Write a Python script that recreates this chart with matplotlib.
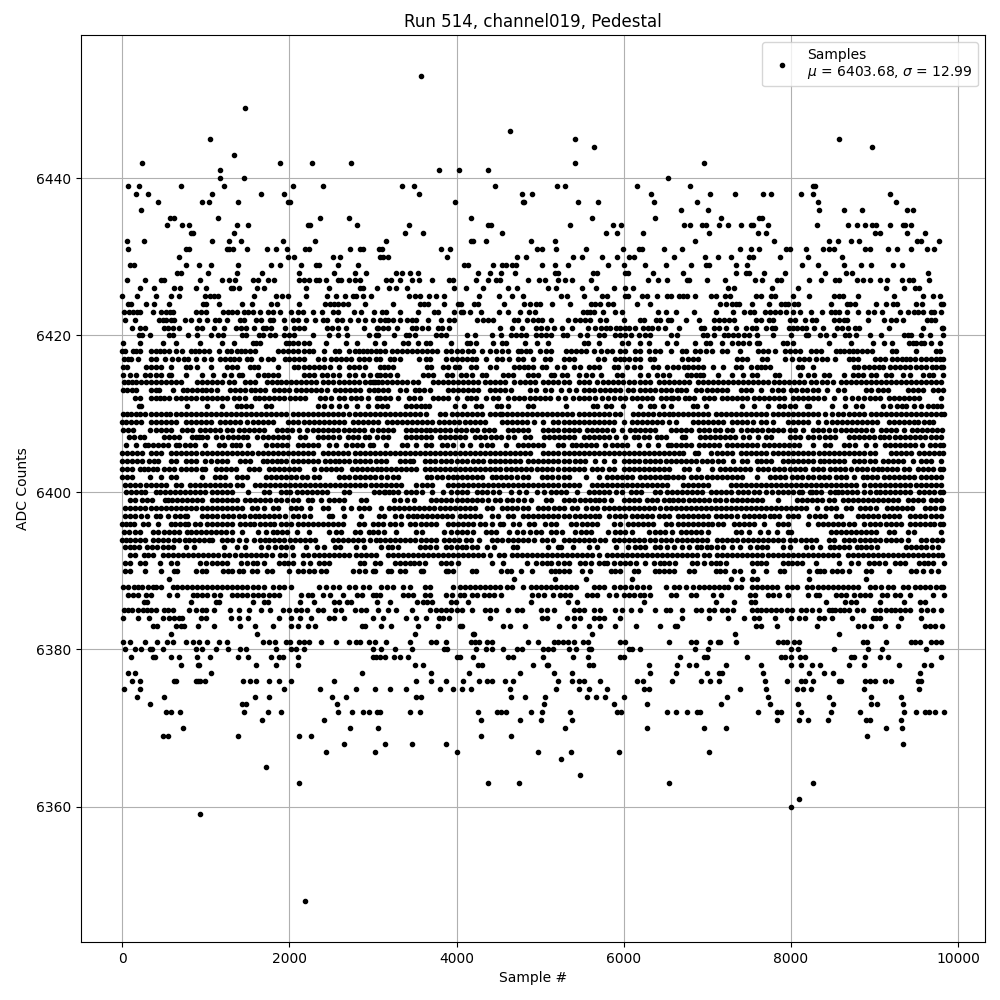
import matplotlib
matplotlib.use("Agg")
import matplotlib.pyplot as plt

# sample numbers, one list per ADC level
s6453 = [3575]
s6449 = [1470]
s6446 = [4640]
s6445 = [1055, 5420, 8575]
s6444 = [5640, 8975]
s6443 = [1340]
s6442 = [240, 1890, 2270, 2740, 5420, 6965]
s6441 = [1170, 3795, 4035, 4380]
s6440 = [1170, 1460, 6525]
s6439 = [72, 203, 706, 1220, 2045, 2404, 3354, 3497, 4466, 5208, 5303, 6153, 6798, 8270, 8285]
s6438 = [167, 311, 1076, 1663, 1938, 3557, 4789, 4909, 6332, 7037, 7336, 7671, 7767, 8126, 8269, 9190]
s6437 = [431, 957, 1041, 1387, 1990, 2010, 3988, 4797, 4810, 5459, 5698, 6368, 6882, 8329, 9262]
s6436 = [227, 6690, 7013, 8341, 8640, 8855, 9394, 9465]
s6435 = [574, 622, 1148, 2368, 2715, 4179, 5626, 6380, 7169, 7623, 7659]
s6434 = [538, 717, 801, 1375, 1507, 2225, 2249, 2811, 3437, 4374, 4418, 5363, 5866, 5973, 6726, 6798, 6942, 6990, 7145, 7253, 7408, 7528, 7552, 7731, 8317, 8688, 8796, 8891, 8975, 9023, 9190, 9346, 9370, 9441]
s6433 = [821, 849, 1340, 3378, 3605, 4550, 5794, 5925, 6236, 7025, 7611, 7707, 9000, 9070, 9394, 9609]
s6432 = [60, 263, 1076, 1280, 1423, 1926, 2308, 3162, 4179, 4203, 4347, 4897, 5184, 6858, 7803, 8461, 8568, 8724, 8819, 9513, 9561, 9776]
s6431 = [72, 765, 801, 1256, 1280, 1328, 1495, 1734, 1842, 1974, 2189, 2237, 2727, 2847, 2883, 3078, 3103, 3820, 3928, 4968, 5028, 5196, 5543, 5997, 6177, 6224, 6476, 6702, 7396, 7528, 7623, 7946, 7994, 8185, 8389, 8461, 8520, 8891, 8951, 9166, 9274, 9441, 9633, 9716]
s6430 = [682, 1986, 2057, 2524, 2607, 3086, 3115, 3186, 3892, 4729, 4837, 5399, 5507, 5746, 5925, 6069, 6129, 6607, 6977, 7133, 7288, 7504, 7552, 7874, 8209, 8616]
s6429 = [96, 144, 765, 921, 1064, 1387, 1782, 1890, 2141, 2320, 2356, 2584, 2823, 4095, 4143, 4442, 4550, 4598, 4658, 4706, 5028, 5184, 5339, 5818, 6009, 6260, 6500, 6810, 6990, 7025, 7348, 7480, 8138, 8329, 8640, 8843, 8963, 9218, 9334]
s6428 = [658, 706, 1029, 1375, 1675, 2117, 2536, 2787, 2918, 3282, 3354, 3449, 3545, 4263, 4406, 4538, 4705, 5184, 5220, 5638, 5686, 6021, 6057, 6356, 6714, 7348, 7468, 7504, 7683, 7934, 8413, 8664, 8736, 9644]
s6427 = [60, 275, 466, 502, 933, 1196, 1280, 1352, 1567, 1627, 1746, 1818, 2117, 2177, 2237, 2320, 2356, 2440, 2584, 2619, 2715, 2787, 2847, 3162, 3222, 3330, 3473, 3557, 3701, 3916, 3964, 4239, 4382, 4478, 4526, 4861, 4992, 5064, 5220, 5292, 5387, 5603, 6296, 6416, 6523, 6762, 6786, 7001, 7216, 7575, 7659, 7839, 7887, 8221, 8365, 8532, 8580, 8796, 8867, 8951, 9071, 9154, 9334, 9417, 9465, 9656]
s6426 = [215, 383, 622, 694, 885, 1005, 1304, 1328, 1399, 1615, 1698, 2201, 2476, 2847, 2883, 3050, 3198, 3282, 3402, 3976, 4119, 4311, 4610, 4729, 5100, 5196, 5507, 5674, 5878, 6021, 6117, 7253, 7324, 7779, 8090, 9142, 9358, 9489, 9537]
s6425 = [0, 179, 407, 586, 682, 993, 1052, 1100, 1148, 1579, 1842, 1914, 1986, 2201, 2452, 2560, 2667, 2763, 2799, 2883, 2978, 3437, 3509, 3569, 3677, 3749, 3856, 4275, 4514, 4658, 4801, 5244, 5316, 5530, 5746, 5806, 6021, 6057, 6224, 6284, 6404, 6523, 6571, 6666, 6714, 6762, 6858, 7049, 7109, 7216, 7276, 7587, 7647, 7767, 7815, 8030, 8221, 8520, 8580, 8628, 8807, 9238, 9585, 9704, 9788]
s6424 = [72, 108, 287, 383, 562, 969, 1005, 1160, 1435, 1555, 1782, 1854, 2117, 2428, 2488, 2536, 2584, 2643, 2703, 2907, 3246, 3569, 3617, 3665, 3856, 4023, 4059, 4215, 4263, 4574, 4813, 4885, 4945, 5004, 5148, 5363, 5603, 5662, 5722, 5818, 5866, 6153, 6320, 7157, 7229, 7300, 7348, 7384, 7540, 7743, 7887, 7934, 7970, 8042, 8090, 8484, 8676, 8712, 8772, 9023, 9142, 9226, 9274, 9501, 9573, 9790, 9825]
s6423 = [25, 85, 130, 175, 215, 370, 470, 520, 570, 610, 880, 940, 1000, 1210, 1270, 1320, 1380, 1460, 1510, 1560, 1650, 1740, 1810, 1890, 2020, 2105, 2165, 2285, 2395, 2525, 2585, 2775, 2860, 3015, 3110, 3160, 3330, 3535, 3725, 3775, 3965, 4050, 4075, 4160, 4290, 4505, 4615, 4760, 4865, 4940, 5510, 5555, 5600, 5650, 5755, 5900, 5985, 6415, 6500, 6630, 6835, 7100, 7305, 7435, 7505, 7555, 7690, 7750, 7810, 7870, 7940, 8025, 8110, 8240, 8370, 8480, 8530, 8580, 8670, 8800, 8925, 8995, 9090, 9305, 9400, 9475, 9525, 9585, 9680, 9715, 9800]
s6422 = [35, 155, 445, 490, 530, 585, 620, 755, 830, 925, 1020, 1115, 1155, 1250, 1405, 1455, 1600, 1660, 1765, 1810, 1940, 2045, 2110, 2195, 2305, 2400, 2455, 2575, 2625, 2730, 2825, 2900, 3005, 3080, 3140, 3185, 3235, 3320, 3405, 3465, 3510, 3665, 3820, 3915, 3965, 4240, 4315, 4375, 4435, 4690, 4735, 4845, 4915, 4975, 5025, 5130, 5335, 5420, 5480, 5540, 5600, 5720, 5790, 6000, 6200, 6245, 6390, 6440, 6535, 6560, 6740, 6905, 7075, 7135, 7195, 7255, 7325, 7580, 7640, 7735, 7785, 7985, 8045, 8165, 8250, 8300, 8515, 8575, 8635, 8670, 8925, 9115, 9200, 9260, 9345, 9630, 9680, 9725]
s6421 = [120, 215, 275, 500, 550, 610, 680, 895, 955, 1100, 1220, 1360, 1420, 1480, 1580, 1680, 1725, 1785, 1950, 2060, 2120, 2180, 2455, 2505, 2585, 2680, 2895, 3050, 3065, 3125, 3185, 3285, 3465, 3520, 3585, 3655, 3775, 3825, 3905, 4520, 4665, 4785, 4950, 5010, 5085, 5165, 5265, 5385, 5575, 5660, 5730, 5790, 5840, 5910, 5960, 6020, 6065, 6140, 6225, 6285, 6340, 6405, 6490, 6665, 6930, 6965, 7075, 7135, 7220, 7340, 7460, 7530, 7580, 7700, 7770, 7810, 7975, 8025, 8070, 8130, 8180, 8275, 8385, 8550, 8610, 8685, 8770, 8815, 9175, 9585, 9810, 9825]
s6420 = [205, 240, 335, 560, 610, 790, 900, 1060, 1150, 1210, 1440, 1480, 1640, 1680, 1770, 1830, 1940, 2000, 2060, 2280, 2480, 2585, 2690, 2955, 3040, 3060, 3250, 3390, 3435, 3500, 3760, 3810, 3870, 4120, 4225, 4420, 4530, 4650, 4710, 4770, 4830, 4950, 5010, 5065, 5125, 5270, 5320, 5480, 5555, 5700, 5760, 5900, 5960, 6015, 6090, 6180, 6250, 6310, 6560, 6640, 6950, 7000, 7080, 7205, 7250, 7310, 7370, 7440, 7500, 7600, 7790, 8005, 8180, 8210, 8350, 8425, 8510, 8650, 8700, 8780, 8950, 9080, 9350, 9400, 9440, 9560, 9660, 9820]
s6419 = [15, 215, 490, 650, 935, 1190, 1340, 1560, 1600, 1650, 1960, 2000, 2050, 2110, 2170, 2240, 2440, 2680, 2810, 3020, 3130, 3360, 3425, 3540, 3640, 3680, 3930, 4120, 4160, 4230, 4440, 4550, 4590, 4820, 4960, 5100, 5520, 5570, 5710, 5980, 6050, 6190, 6300, 6520, 6620, 6850, 6990, 7030, 7180, 7300, 7370, 7430, 7500, 7590, 7620, 7900, 7950, 8030, 8450, 8720, 8980, 9110, 9210, 9410, 9460, 9500, 9560, 9590, 9680, 9780]
s6418 = [0, 40, 130, 170, 220, 340, 400, 450, 500, 560, 640, 720, 820, 870, 920, 980, 1040, 1160, 1250, 1300, 1370, 1420, 1470, 1530, 1590, 1870, 1930, 1990, 2040, 2100, 2180, 2230, 2280, 2420, 2550, 2590, 2720, 2780, 2830, 2880, 2930, 2980, 3040, 3090, 3150, 3230, 3290, 3350, 3410, 3470, 3530, 3590, 3650, 3710, 3770, 3880, 3940, 4000, 4060, 4140, 4200, 4310, 4400, 4470, 4550, 4610, 4730, 4770, 4830, 4880, 5000, 5070, 5130, 5310, 5370, 5430, 5490, 5550, 5640, 5730, 5800, 5860, 5960, 6020, 6130, 6200, 6300, 6370, 6440, 6560, 6700, 6740, 6850, 6910, 6980, 7060, 7180, 7230, 7390, 7610, 7670, 7730, 7810, 7930, 7990, 8050, 8110, 8240, 8300, 8360, 8540, 8590, 8640, 8690, 8740, 8790, 8850, 8910, 8970, 9210, 9260, 9500, 9730, 9780]
s6417 = [20, 70, 110, 190, 350, 400, 510, 600, 670, 740, 790, 880, 980, 1060, 1170, 1230, 1290, 1340, 1400, 1490, 1540, 1660, 1750, 1810, 1950, 2000, 2060, 2120, 2180, 2340, 2410, 2500, 2560, 2620, 2680, 2740, 2830, 2890, 2950, 3040, 3090, 3200, 3250, 3330, 3550, 3630, 3680, 3880, 3950, 4000, 4060, 4130, 4180, 4230, 4350, 4490, 4550, 4630, 4730, 4800, 4920, 5060, 5120, 5290, 5350, 5410, 5690, 5760, 5900, 5950, 6000, 6060, 6130, 6200, 6310, 6360, 6700, 6770, 6830, 6890, 7360, 7420, 7470, 7660, 7710, 7930, 8010, 8100, 8160, 8220, 8300, 8370, 8430, 8530, 8690, 8740, 8800, 9000, 9060, 9120, 9210, 9270, 9330, 9380, 9430, 9490, 9550, 9610, 9670, 9730, 9780, 9820]
s6416 = [10, 60, 290, 340, 400, 460, 590, 770, 810, 900, 1060, 1260, 1320, 1380, 1530, 1580, 1630, 1860, 2060, 2110, 2170, 2230, 2290, 2350, 2410, 2490, 2600, 2710, 2770, 2830, 2900, 3090, 3130, 3180, 3240, 3650, 3700, 3840, 3900, 3980, 4030, 4170, 4230, 4400, 4470, 4690, 4750, 4810, 4860, 4920, 5020, 5070, 5200, 5290, 5400, 5480, 5580, 5640, 5700, 5880, 5930, 6040, 6120, 6190, 6350, 6410, 6520, 6590, 6650, 6720, 6770, 6830, 6890, 6950, 7070, 7190, 7340, 7400, 7520, 7590, 7640, 7690, 7750, 8080, 8130, 8260, 8750, 8800, 8880, 8930, 8990, 9050, 9100, 9190, 9240, 9310, 9360, 9430, 9500, 9560, 9620, 9690, 9740, 9790, 9825]
s6415 = [10, 100, 170, 280, 330, 400, 460, 560, 590, 760, 960, 1090, 1220, 1300, 1400, 1440, 1630, 1700, 1750, 1800, 1860, 2170, 2230, 2290, 2390, 2450, 2520, 2600, 2720, 2790, 2880, 2960, 3050, 3090, 3150, 3210, 3290, 3600, 3660, 3720, 3890, 3950, 4050, 4110, 4190, 4300, 4350, 4560, 4620, 4680, 4860, 4920, 4980, 5130, 5170, 5260, 5320, 5470, 5550, 5620, 5730, 5920, 5980, 6200, 6290, 6400, 6470, 6545, 6760, 6810, 6860, 6910, 6950, 7130, 7290, 7430, 7540, 7600, 7810, 7860, 8110, 8200, 8280, 8390, 8450, 8640, 8740, 8800, 8860, 8960, 9020, 9140, 9200, 9340, 9430, 9580, 9650, 9700, 9820]
s6414 = [20, 70, 120, 170, 230, 290, 350, 410, 470, 530, 590, 640, 700, 900, 960, 1020, 1080, 1140, 1190, 1280, 1340, 1470, 1530, 1590, 1730, 1790, 1850, 1900, 1960, 2020, 2080, 2140, 2200, 2260, 2320, 2400, 2460, 2520, 2590, 2650, 2710, 2770, 2830, 2900, 2960, 3000, 3020, 3060, 3110, 3170, 3230, 3290, 3350, 3410, 3480, 3540, 3720, 3780, 3840, 3900, 3960, 4020, 4080, 4140, 4200, 4260, 4340, 4400, 4460, 4520, 4580, 4690, 4760, 4820, 4880, 4940, 5040, 5100, 5150, 5220, 5280, 5340, 5460, 5520, 5580, 5680, 5750, 5810, 5870, 5930, 5990, 6060, 6120, 6190, 6250, 6310, 6420, 6480, 6540, 6600, 6660, 6720, 6780, 6890, 6950, 7010, 7070, 7130, 7190, 7250, 7310, 7370, 7430, 7490, 7550, 7610, 7670, 7730, 7800, 7860, 7920, 7980, 8040, 8100, 8160, 8240, 8300, 8370, 8430, 8500, 8600, 8660, 8720, 8780, 8840, 8900, 8960, 9020, 9080, 9140, 9200, 9260, 9320, 9380, 9440, 9500, 9560, 9620, 9680, 9740, 9800]
s6413 = [10, 60, 120, 170, 350, 400, 440, 610, 730, 780, 840, 900, 950, 1000, 1060, 1130, 1290, 1350, 1410, 1470, 1540, 1590, 1650, 1710, 1820, 1880, 1940, 2000, 2080, 2140, 2200, 2260, 2320, 2380, 2450, 2550, 2610, 2670, 2730, 2790, 2850, 2950, 3010, 3060, 3120, 3180, 3330, 3390, 3500, 3550, 3610, 3680, 3900, 3960, 4020, 4080, 4140, 4200, 4260, 4400, 4460, 4520, 4580, 4650, 4880, 4950, 5060, 5130, 5250, 5340, 5430, 5520, 5590, 5640, 5720, 5780, 5840, 5900, 5960, 6050, 6110, 6200, 6260, 6320, 6380, 6450, 6510, 6570, 6640, 6690, 6750, 6870, 6930, 7000, 7060, 7120, 7180, 7240, 7400, 7460, 7520, 7640, 7770, 7840, 7900, 8000, 8060, 8130, 8190, 8260, 8320, 8430, 8560, 8640, 8900, 8960, 9040, 9100, 9160, 9400, 9460, 9520, 9580, 9700, 9760, 9820]
s6412 = [150, 210, 340, 400, 450, 500, 560, 640, 700, 760, 820, 890, 950, 1010, 1070, 1130, 1190, 1260, 1340, 1400, 1470, 1590, 1640, 1700, 1760, 1820, 1880, 1940, 2010, 2070, 2130, 2190, 2370, 2430, 2500, 2600, 2650, 2740, 2800, 2860, 2940, 3050, 3080, 3140, 3200, 3300, 3430, 3490, 3560, 3720, 3780, 3840, 3900, 4000, 4120, 4170, 4230, 4350, 4440, 4500, 4620, 4690, 4750, 4810, 4880, 4940, 5000, 5060, 5120, 5210, 5300, 5390, 5470, 5530, 5590, 5660, 5740, 5810, 5880, 5950, 6010, 6100, 6160, 6220, 6280, 6340, 6450, 6510, 6570, 6590, 6650, 6730, 6780, 6840, 6960, 7020, 7080, 7180, 7240, 7300, 7360, 7420, 7480, 7560, 7620, 7680, 7740, 7800, 7860, 7920, 8020, 8080, 8140, 8200, 8260, 8320, 8390, 8520, 8650, 8730, 8800, 8880, 8940, 9010, 9070, 9170, 9230, 9290, 9350, 9410, 9470, 9530, 9800]
s6411 = [200, 230, 780, 1020, 1190, 1370, 1420, 1480, 1540, 1720, 1780, 2340, 2420, 2500, 2600, 2680, 2810, 2940, 3050, 3110, 3170, 3400, 3460, 3520, 3570, 3620, 3670, 3980, 4090, 4230, 4290, 4480, 4530, 4610, 4860, 4910, 5310, 5630, 5680, 5790, 5850, 5990, 6190, 6310, 6360, 6470, 6570, 6830, 6880, 6980, 7420, 7560, 7720, 7860, 7920, 7990, 8050, 8190, 8220, 8490, 8650, 8780, 8850, 9100, 9190, 9270, 9330, 9380, 9470, 9560, 9640, 9700, 9750, 9800]
s6410 = [10, 60, 110, 170, 220, 280, 340, 400, 460, 520, 570, 640, 700, 760, 820, 880, 940, 1000, 1060, 1120, 1180, 1240, 1300, 1360, 1420, 1480, 1540, 1600, 1660, 1720, 1780, 1840, 1900, 1960, 2040, 2100, 2160, 2220, 2280, 2340, 2400, 2460, 2520, 2580, 2640, 2720, 2780, 2840, 2900, 2960, 3020, 3080, 3140, 3200, 3260, 3320, 3380, 3440, 3500, 3560, 3640, 3800, 3860, 3950, 4010, 4070, 4130, 4190, 4250, 4310, 4400, 4460, 4520, 4540, 4600, 4660, 4720, 4780, 4840, 4900, 4960, 5020, 5080, 5140, 5200, 5260, 5320, 5380, 5470, 5530, 5590, 5650, 5710, 5770, 5830, 5890, 5960, 6110, 6170, 6230, 6290, 6350, 6420, 6480, 6540, 6590, 6650, 6710, 6770, 6830, 6890, 6950, 7010, 7100, 7160, 7220, 7280, 7340, 7400, 7460, 7520, 7580, 7640, 7700, 7780, 7840, 7900, 7960, 8020, 8080, 8140, 8200, 8260, 8320, 8410, 8490, 8560, 8620, 8700, 8760, 8820, 8880, 8960, 9020, 9080, 9140, 9200, 9260, 9320, 9380, 9440, 9500, 9560, 9620, 9680, 9740, 9790, 9830]
s6409 = [0, 50, 110, 170, 230, 340, 400, 460, 520, 580, 640, 760, 820, 880, 940, 1000, 1060, 1170, 1230, 1290, 1350, 1410, 1500, 1560, 1620, 1680, 1740, 1800, 1980, 2040, 2100, 2180, 2240, 2300, 2360, 2420, 2480, 2540, 2600, 2660, 2760, 2820, 2880, 2940, 3000, 3060, 3170, 3230, 3290, 3350, 3410, 3470, 3530, 3590, 3650, 3710, 3790, 3850, 3910, 3970, 4030, 4100, 4160, 4220, 4280, 4340, 4540, 4600, 4660, 4720, 4780, 4840, 4930, 5040, 5160, 5220, 5280, 5340, 5400, 5460, 5520, 5580, 5640, 5700, 5760, 5820, 5880, 6000, 6100, 6160, 6220, 6280, 6340, 6400, 6460, 6540, 6630, 6830, 6890, 6950, 7010, 7070, 7130, 7190, 7290, 7350, 7410, 7470, 7550, 7640, 7700, 7780, 7970, 8030, 8090, 8150, 8210, 8320, 8420, 8490, 8550, 8610, 8670, 8730, 8790, 8850, 8910, 8970, 9030, 9170, 9230, 9290, 9350, 9410, 9470, 9520, 9590, 9650, 9700]
s6408 = [10, 70, 130, 330, 400, 470, 530, 590, 720, 780, 840, 930, 990, 1050, 1110, 1170, 1250, 1310, 1400, 1460, 1520, 1580, 1640, 1700, 1850, 1910, 1970, 2030, 2120, 2210, 2280, 2340, 2400, 2460, 2520, 2580, 2650, 2710, 2770, 2830, 2890, 2990, 3060, 3120, 3180, 3240, 3390, 3450, 3510, 3570, 3630, 3680, 3740, 3800, 3860, 3920, 3990, 4050, 4110, 4190, 4250, 4330, 4390, 4450, 4610, 4670, 4730, 4800, 4860, 5040, 5100, 5160, 5220, 5280, 5340, 5400, 5460, 5560, 5620, 5680, 5740, 5800, 5870, 5980, 6070, 6130, 6190, 6250, 6310, 6370, 6560, 6620, 6680, 6740, 6800, 6900, 6960, 7020, 7090, 7150, 7230, 7290, 7400, 7480, 7540, 7600, 7660, 7720, 7780, 7840, 7900, 7990, 8050, 8140, 8260, 8320, 8380, 8450, 8530, 8600, 8660, 8720, 8780, 8840, 8900, 8970, 9080, 9140, 9200, 9260, 9350, 9450, 9510, 9570, 9630, 9690, 9750, 9810]
s6407 = [80, 140, 210, 260, 500, 560, 620, 680, 840, 880, 920, 960, 1020, 1120, 1190, 1270, 1330, 1390, 1450, 1500, 1610, 1680, 1740, 1800, 1860, 1930, 1990, 2130, 2190, 2340, 2400, 2460, 2520, 2600, 2700, 2760, 2820, 2900, 2950, 3050, 3120, 3180, 3390, 3450, 3510, 3570, 3630, 3700, 3800, 3860, 3920, 3980, 4040, 4100, 4220, 4280, 4340, 4410, 4470, 4530, 4620, 4690, 4820, 4880, 5050, 5110, 5170, 5230, 5290, 5350, 5410, 5530, 5590, 5650, 5710, 5770, 5830, 5910, 6010, 6120, 6170, 6240, 6300, 6400, 6450, 6510, 6700, 6730, 6910, 6970, 7030, 7090, 7150, 7210, 7270, 7330, 7430, 7500, 7610, 7700, 7760, 7990, 8050, 8110, 8200, 8260, 8330, 8410, 8470, 8530, 8690, 8750, 8810, 8870, 8930, 8990, 9060, 9110, 9170, 9240, 9300, 9360, 9430, 9480, 9540, 9600, 9680, 9740, 9800]
s6406 = [50, 170, 270, 310, 370, 430, 490, 550, 640, 680, 750, 810, 870, 990, 1160, 1220, 1310, 1360, 1410, 1510, 1720, 1790, 1850, 1910, 1970, 2100, 2160, 2220, 2280, 2340, 2480, 2560, 2680, 2750, 2810, 2870, 2960, 3000, 3160, 3350, 3410, 3510, 3640, 3700, 3830, 3890, 3960, 4060, 4160, 4290, 4370, 4430, 4590, 4740, 4800, 4860, 4920, 4980, 5040, 5210, 5270, 5380, 5430, 5490, 5550, 5610, 5670, 5780, 5860, 5920, 5980, 6040, 6180, 6290, 6410, 6530, 6570, 6620, 6680, 6740, 6800, 6900, 6960, 7020, 7080, 7140, 7230, 7290, 7350, 7410, 7470, 7530, 7590, 7680, 7740, 7800, 7860, 7920, 7980, 8040, 8100, 8270, 8410, 8470, 8640, 8700, 8770, 8900, 9000, 9130, 9190, 9250, 9310, 9370, 9430, 9490, 9570, 9660, 9720, 9780, 9825]
s6405 = [0, 60, 120, 180, 240, 340, 400, 460, 590, 650, 710, 770, 830, 890, 950, 1010, 1070, 1130, 1190, 1250, 1310, 1370, 1430, 1490, 1550, 1620, 1680, 1740, 1800, 1860, 1920, 1980, 2040, 2100, 2160, 2220, 2280, 2400, 2460, 2520, 2580, 2640, 2700, 2780, 2840, 2900, 2960, 3020, 3080, 3140, 3200, 3260, 3320, 3380, 3440, 3500, 3560, 3620, 3680, 3740, 3800, 3860, 3920, 3980, 4040, 4100, 4160, 4220, 4280, 4340, 4400, 4460, 4520, 4580, 4640, 4700, 4760, 4820, 4880, 5040, 5100, 5160, 5220, 5280, 5340, 5400, 5460, 5520, 5580, 5640, 5700, 5760, 5820, 5880, 5940, 6000, 6060, 6120, 6180, 6240, 6300, 6360, 6420, 6480, 6540, 6600, 6660, 6710, 6850, 6890, 7050, 7110, 7170, 7230, 7290, 7400, 7460, 7520, 7580, 7640, 7700, 7780, 7840, 7900, 7960, 8020, 8080, 8140, 8200, 8260, 8340, 8400, 8460, 8520, 8580, 8640, 8700, 8760, 8820, 8880, 8940, 9000, 9200, 9260, 9320, 9380, 9440, 9530, 9590, 9650, 9710, 9770, 9820]
s6404 = [0, 60, 120, 180, 240, 320, 380, 430, 580, 640, 770, 830, 890, 990, 1060, 1130, 1190, 1250, 1410, 1470, 1530, 1680, 1730, 1790, 1850, 1900, 1960, 2040, 2100, 2160, 2220, 2280, 2340, 2430, 2490, 2550, 2600, 2660, 2720, 2780, 2840, 2900, 2960, 3040, 3100, 3160, 3320, 3380, 3440, 3480, 3620, 3680, 3740, 3820, 3880, 3940, 4000, 4060, 4120, 4200, 4260, 4320, 4400, 4460, 4520, 4580, 4640, 4700, 4760, 4850, 4910, 4970, 5030, 5090, 5150, 5220, 5280, 5340, 5420, 5480, 5540, 5660, 5770, 5880, 6000, 6060, 6120, 6180, 6260, 6320, 6380, 6440, 6500, 6560, 6620, 6680, 6740, 6800, 6860, 6940, 7000, 7060, 7130, 7190, 7310, 7410, 7470, 7590, 7640, 7700, 7760, 7900, 7960, 8020, 8080, 8140, 8200, 8260, 8350, 8400, 8460, 8520, 8580, 8640, 8760, 8820, 8880, 8940, 9000, 9100, 9160, 9220, 9280, 9340, 9460, 9560, 9620, 9680, 9800]
s6403 = [0, 60, 120, 210, 260, 310, 370, 420, 500, 560, 620, 700, 760, 820, 880, 950, 990, 1120, 1180, 1240, 1300, 1360, 1520, 1580, 1640, 1760, 1820, 1880, 1940, 2000, 2060, 2120, 2290, 2380, 2440, 2500, 2560, 2620, 2750, 2810, 2870, 2930, 2990, 3050, 3100, 3160, 3220, 3280, 3340, 3400, 3460, 3520, 3620, 3680, 3740, 3800, 3860, 3920, 3980, 4040, 4100, 4160, 4220, 4280, 4340, 4400, 4460, 4520, 4590, 4650, 4710, 4770, 4830, 4890, 4960, 5020, 5080, 5140, 5220, 5280, 5340, 5400, 5460, 5520, 5620, 5680, 5740, 5820, 5880, 6000, 6060, 6120, 6180, 6240, 6300, 6360, 6420, 6480, 6540, 6720, 6780, 6890, 7060, 7150, 7210, 7270, 7330, 7390, 7450, 7510, 7610, 7670, 7730, 7800, 7860, 7920, 7990, 8050, 8110, 8170, 8270, 8320, 8380, 8470, 8530, 8590, 8650, 8720, 8790, 8850, 8910, 8980, 9040, 9090, 9150, 9210, 9270, 9350, 9410, 9520, 9580, 9640, 9700, 9780, 9820]
s6402 = [0, 60, 120, 330, 460, 580, 640, 960, 1110, 1170, 1230, 1380, 1440, 1500, 1720, 1780, 1840, 1900, 1960, 2020, 2080, 2150, 2210, 2300, 2350, 2600, 2660, 2720, 2780, 2840, 2900, 2960, 3030, 3100, 3170, 3240, 3300, 3650, 3700, 3770, 3830, 3900, 3960, 4000, 4060, 4120, 4180, 4240, 4300, 4420, 4470, 4530, 4590, 4650, 4720, 4800, 4860, 5020, 5080, 5140, 5220, 5280, 5340, 5550, 5710, 5800, 5860, 5920, 5980, 6040, 6100, 6200, 6260, 6320, 6380, 6440, 6490, 6530, 6590, 6650, 6710, 6800, 6860, 6920, 7000, 7060, 7120, 7180, 7240, 7300, 7360, 7420, 7590, 7750, 7810, 7870, 7930, 8010, 8070, 8130, 8200, 8260, 8340, 8400, 8460, 8540, 8600, 8660, 8750, 8860, 8910, 8970, 9030, 9110, 9170, 9230, 9290, 9350, 9410, 9470, 9560, 9620, 9680, 9740, 9800]
s6401 = [40, 100, 160, 220, 290, 350, 410, 470, 530, 640, 700, 810, 870, 930, 990, 1050, 1110, 1170, 1230, 1290, 1380, 1440, 1590, 1650, 1710, 1770, 1830, 1890, 1950, 2010, 2070, 2130, 2190, 2250, 2310, 2370, 2430, 2490, 2550, 2610, 2670, 2730, 2790, 2850, 2910, 2980, 3040, 3100, 3160, 3220, 3280, 3340, 3520, 3590, 3650, 3710, 3900, 3960, 4020, 4080, 4140, 4200, 4260, 4320, 4380, 4440, 4500, 4560, 4620, 4680, 4740, 4800, 4860, 4920, 4980, 5040, 5100, 5160, 5220, 5280, 5340, 5400, 5460, 5620, 5680, 5740, 5800, 5860, 5920, 5980, 6040, 6100, 6160, 6220, 6280, 6340, 6400, 6460, 6520, 6710, 6770, 6830, 6890, 6950, 7010, 7280, 7340, 7400, 7460, 7520, 7580, 7640, 7700, 7760, 7820, 7880, 7940, 8000, 8060, 8120, 8180, 8240, 8300, 8360, 8420, 8480, 8540, 8600, 8660, 8720, 8780, 8880, 8940, 9000, 9060, 9120, 9180, 9240, 9300, 9360, 9420, 9500, 9560, 9620, 9680, 9740, 9800]
s6400 = [50, 110, 170, 230, 280, 400, 450, 510, 570, 630, 690, 750, 810, 870, 930, 990, 1080, 1140, 1200, 1260, 1320, 1510, 1700, 1760, 1900, 1960, 2010, 2090, 2150, 2210, 2270, 2330, 2390, 2450, 2650, 2720, 3010, 3070, 3130, 3150, 3190, 3240, 3300, 3390, 3450, 3520, 3590, 3710, 3840, 3940, 4000, 4060, 4120, 4240, 4300, 4370, 4440, 4510, 4650, 4750, 4830, 4960, 5050, 5130, 5190, 5250, 5310, 5440, 5580, 5640, 5700, 5760, 5830, 5910, 5980, 6090, 6150, 6210, 6380, 6440, 6520, 6580, 6640, 6700, 6760, 6820, 6880, 6940, 7040, 7100, 7160, 7220, 7280, 7370, 7430, 7490, 7560, 7620, 7700, 7770, 7850, 7910, 7970, 8030, 8100, 8130, 8230, 8250, 8300, 8360, 8470, 8530, 8560, 8610, 8670, 8730, 8790, 8880, 8950, 9020, 9060, 9120, 9180, 9240, 9300, 9360, 9420, 9530, 9590, 9650, 9710, 9780, 9820]
s6399 = [90, 150, 240, 300, 360, 510, 550, 600, 660, 720, 780, 840, 900, 960, 1080, 1140, 1200, 1260, 1320, 1380, 1470, 1530, 1590, 1650, 1710, 1770, 1840, 1900, 1970, 2040, 2100, 2220, 2270, 2380, 2470, 2530, 2590, 2660, 2860, 2920, 3250, 3330, 3410, 3490, 3700, 3760, 3820, 3880, 3940, 4000, 4060, 4120, 4180, 4250, 4300, 4380, 4460, 4520, 4600, 4660, 4730, 4810, 4890, 5070, 5130, 5280, 5340, 5400, 5480, 5540, 5600, 5660, 5710, 5770, 5850, 6000, 6060, 6120, 6180, 6280, 6340, 6400, 6480, 6540, 6590, 6650, 6710, 6780, 6840, 6900, 6960, 7020, 7090, 7150, 7220, 7290, 7350, 7410, 7470, 7530, 7590, 7650, 7840, 8070, 8130, 8190, 8250, 8310, 8370, 8450, 8510, 8620, 8680, 8740, 8800, 8860, 8920, 8980, 9040, 9100, 9160, 9220, 9280, 9400, 9460, 9520, 9580, 9680, 9740, 9800]
s6398 = [30, 90, 150, 210, 280, 340, 400, 470, 530, 590, 650, 710, 770, 830, 890, 950, 1010, 1070, 1130, 1190, 1250, 1310, 1370, 1430, 1550, 1610, 1700, 1810, 1870, 2020, 2080, 2140, 2250, 2400, 2460, 2640, 2740, 2830, 2890, 2950, 3100, 3190, 3250, 3310, 3370, 3430, 3490, 3550, 3610, 3670, 3730, 3800, 3860, 3920, 3980, 4040, 4100, 4160, 4220, 4360, 4420, 4540, 4600, 4660, 4720, 4790, 4850, 4980, 5040, 5100, 5170, 5230, 5290, 5380, 5440, 5550, 5620, 5680, 5760, 5820, 5880, 5940, 6000, 6060, 6120, 6180, 6240, 6300, 6360, 6440, 6500, 6560, 6620, 6680, 6740, 6800, 6860, 6920, 6980, 7040, 7100, 7160, 7220, 7280, 7340, 7400, 7460, 7520, 7580, 7640, 7700, 7760, 7820, 7880, 7940, 8000, 8060, 8120, 8180, 8310, 8420, 8480, 8540, 8660, 8720, 8830, 8890, 8950, 9020, 9150, 9210, 9270, 9330, 9390, 9450, 9600, 9660, 9720, 9790, 9825]
s6397 = [30, 100, 150, 230, 300, 400, 450, 550, 630, 690, 750, 780, 960, 1020, 1080, 1140, 1210, 1270, 1330, 1400, 1460, 1530, 1590, 1640, 1700, 1760, 1820, 1880, 1950, 2040, 2100, 2180, 2250, 2470, 2510, 2660, 2860, 3070, 3130, 3260, 3340, 3420, 3480, 3530, 3590, 3650, 3710, 3770, 3830, 3890, 3950, 4040, 4100, 4160, 4220, 4280, 4430, 4500, 4620, 4680, 4800, 4860, 4920, 4980, 5040, 5100, 5160, 5220, 5280, 5340, 5420, 5480, 5540, 5600, 5660, 5710, 5830, 5900, 5960, 6020, 6100, 6160, 6220, 6280, 6340, 6420, 6480, 6540, 6650, 6710, 6770, 6830, 6890, 6950, 7010, 7100, 7160, 7220, 7280, 7350, 7440, 7500, 7560, 7620, 7680, 7750, 7800, 7860, 7960, 8020, 8080, 8220, 8290, 8350, 8410, 8540, 8600, 8800, 8860, 8920, 8980, 9040, 9110, 9170, 9230, 9290, 9420, 9490, 9540, 9600, 9680, 9740, 9800]
s6396 = [0, 50, 100, 140, 250, 310, 430, 590, 630, 690, 750, 790, 870, 930, 1010, 1070, 1130, 1190, 1260, 1320, 1410, 1470, 1530, 1580, 1650, 1710, 1770, 1820, 1900, 1960, 2020, 2100, 2160, 2220, 2280, 2340, 2400, 2460, 2520, 2580, 2640, 2830, 2890, 3000, 3060, 3120, 3200, 3260, 3340, 3440, 3500, 3580, 3640, 3700, 3760, 3900, 3960, 4020, 4080, 4140, 4200, 4280, 4340, 4420, 4520, 4560, 4670, 4750, 4870, 4930, 5060, 5130, 5190, 5370, 5430, 5500, 5560, 5620, 5680, 5880, 5950, 6050, 6110, 6170, 6230, 6290, 6350, 6500, 6560, 6650, 6710, 6770, 6830, 6890, 6950, 7010, 7060, 7130, 7190, 7320, 7380, 7440, 7500, 7560, 7680, 7850, 7900, 7960, 8200, 8320, 8380, 8440, 8500, 8560, 8620, 8700, 8760, 8880, 8940, 9000, 9060, 9140, 9200, 9260, 9320, 9420, 9480, 9540, 9600, 9660, 9710, 9780, 9820]
s6395 = [20, 80, 160, 220, 370, 430, 500, 560, 620, 680, 780, 830, 880, 940, 1000, 1060, 1120, 1180, 1240, 1320, 1430, 1620, 1720, 1810, 1850, 1910, 1970, 2090, 2240, 2470, 2560, 2620, 2790, 2850, 2950, 3000, 3060, 3130, 3280, 3520, 3590, 3850, 3940, 4000, 4060, 4130, 4200, 4350, 4410, 4470, 4630, 4720, 4790, 4880, 4950, 5010, 5130, 5190, 5260, 5420, 5490, 5550, 5610, 5810, 5900, 5960, 6020, 6100, 6300, 6370, 6430, 6490, 6580, 6690, 6750, 6810, 6870, 6930, 7010, 7340, 7400, 7500, 7630, 7720, 7830, 7960, 8000, 8480, 8540, 8600, 8660, 8720, 8780, 8840, 8900, 8960, 9020, 9170, 9230, 9400, 9470, 9800]
s6394 = [0, 50, 100, 160, 210, 270, 370, 430, 490, 550, 620, 680, 750, 800, 860, 920, 980, 1040, 1080, 1200, 1250, 1310, 1400, 1480, 1580, 1650, 1710, 1760, 1820, 1880, 1940, 2010, 2070, 2130, 2190, 2250, 2310, 2520, 2580, 2640, 2700, 2760, 2820, 2880, 2960, 3040, 3090, 3140, 3200, 3260, 3320, 3380, 3440, 3500, 3580, 3640, 3700, 3760, 3850, 3910, 3970, 4030, 4110, 4170, 4270, 4430, 4490, 4550, 4620, 4680, 4740, 4800, 4860, 4930, 5020, 5080, 5160, 5280, 5340, 5410, 5470, 5530, 5590, 5650, 5720, 5780, 5880, 5940, 6000, 6060, 6120, 6180, 6240, 6320, 6380, 6450, 6510, 6570, 6640, 6700, 6760, 6820, 6880, 6940, 7000, 7120, 7180, 7240, 7300, 7360, 7430, 7490, 7550, 7610, 7670, 7730, 7790, 7850, 7910, 7990, 8050, 8120, 8180, 8240, 8300, 8460, 8520, 8630, 8700, 8760, 8830, 8890, 8950, 9010, 9070, 9140, 9200, 9260, 9320, 9400, 9560, 9620, 9690, 9750, 9810]
s6393 = [30, 90, 140, 200, 300, 360, 420, 490, 550, 610, 760, 860, 1220, 1370, 1470, 1660, 1740, 1830, 1900, 1960, 2030, 2200, 2330, 2420, 2550, 2610, 2800, 2890, 3100, 3180, 3230, 3300, 3560, 3620, 3680, 3760, 3880, 3940, 4000, 4060, 4110, 4190, 4250, 4370, 4450, 4670, 4720, 5090, 5210, 5250, 5390, 5590, 5680, 5910, 6050, 6130, 6190, 6250, 6370, 6440, 6520, 6600, 6700, 6780, 6880, 6930, 7000, 7050, 7110, 7190, 7300, 7390, 7510, 7590, 7650, 7710, 7900, 7990, 8180, 8250, 8350, 8470, 8520, 8570, 8630, 8700, 8790, 8840, 8900, 8960, 9030, 9380, 9440, 9500, 9560, 9610, 9690, 9760]
s6392 = [90, 150, 260, 310, 370, 490, 550, 610, 670, 730, 790, 850, 910, 970, 1030, 1090, 1150, 1220, 1280, 1350, 1420, 1480, 1540, 1600, 1660, 1720, 1790, 1890, 1950, 2040, 2160, 2220, 2290, 2350, 2410, 2470, 2530, 2590, 2650, 2720, 2800, 2860, 2920, 2980, 3040, 3180, 3240, 3300, 3360, 3420, 3480, 3540, 3600, 3660, 3720, 3780, 3840, 3900, 3960, 4020, 4080, 4140, 4200, 4260, 4320, 4400, 4510, 4570, 4660, 4720, 4780, 4840, 4900, 4960, 5020, 5080, 5140, 5200, 5260, 5320, 5380, 5440, 5500, 5560, 5620, 5700, 5800, 5860, 5920, 5980, 6040, 6100, 6160, 6220, 6280, 6340, 6400, 6460, 6520, 6580, 6640, 6700, 6760, 6820, 6880, 6960, 7020, 7120, 7180, 7240, 7300, 7360, 7420, 7480, 7540, 7600, 7660, 7720, 7780, 7840, 7900, 7960, 8020, 8080, 8140, 8200, 8260, 8320, 8380, 8440, 8500, 8560, 8680, 8740, 8800, 8860, 8920, 8980, 9040, 9100, 9160, 9220, 9280, 9340, 9400, 9460, 9520, 9580, 9640, 9700, 9760, 9810]
s6391 = [30, 90, 220, 270, 450, 580, 660, 930, 1000, 1080, 1130, 1190, 1250, 1420, 1490, 1570, 1610, 1700, 1880, 1940, 1990, 2050, 2160, 2250, 2360, 2420, 2470, 2840, 2890, 3020, 3090, 3260, 3320, 3380, 3440, 3490, 3550, 3620, 3820, 3870, 3940, 4020, 4430, 4560, 4840, 4950, 5020, 5080, 5130, 5210, 5290, 5350, 5480, 5540, 5610, 5700, 5760, 5800, 5880, 5950, 6010, 6080, 6150, 6250, 6360, 6430, 6480, 6540, 6610, 6820, 6880, 6960, 7040, 7100, 7150, 7220, 7530, 7590, 7640, 7700, 7900, 7960, 8010, 8070, 8130, 8300, 8570, 8720, 8800, 8930, 8990, 9050, 9130, 9250, 9310, 9360, 9530, 9590, 9640, 9700, 9830]
s6390 = [40, 90, 280, 460, 620, 660, 890, 950, 1000, 1210, 1270, 1320, 1400, 1450, 1550, 1610, 1730, 1790, 2000, 2110, 2160, 2240, 2300, 2380, 2440, 2760, 2830, 2900, 3000, 3030, 3180, 3220, 3320, 3380, 3580, 3600, 3870, 3900, 3960, 4180, 4230, 4530, 4600, 4650, 4770, 4900, 5130, 5180, 5230, 5290, 5340, 5500, 5600, 5850, 5900, 5960, 6120, 6170, 6380, 6420, 6480, 6540, 6600, 6780, 6840, 7100, 7150, 7210, 7320, 7390, 7550, 7700, 7870, 7920, 8220, 8310, 8350, 8400, 8490, 8550, 8610, 8700, 8900, 8960, 9170, 9440, 9500, 9580, 9680, 9760]
s6389 = [565, 4690, 5180, 5550, 6100, 7280, 7420, 7540, 7590, 8220, 8900]
s6388 = [10, 70, 140, 190, 240, 310, 370, 410, 460, 610, 660, 720, 780, 840, 900, 960, 1020, 1080, 1140, 1200, 1260, 1320, 1380, 1440, 1500, 1560, 1620, 1700, 1810, 1880, 1940, 2020, 2360, 2440, 2520, 2600, 2720, 2790, 2880, 2950, 3100, 3170, 3240, 3360, 3440, 3620, 3680, 3960, 4040, 4100, 4160, 4220, 4280, 4340, 4400, 4460, 4520, 4600, 4660, 4800, 4890, 4950, 5010, 5070, 5130, 5190, 5250, 5310, 5370, 5430, 5640, 5700, 5760, 5880, 5950, 6020, 6090, 6160, 6230, 6300, 6510, 6600, 6660, 6750, 6830, 6900, 6960, 7020, 7080, 7140, 7200, 7250, 7340, 7400, 7530, 7590, 7650, 7710, 7770, 7830, 7950, 8010, 8070, 8190, 8250, 8320, 8380, 8440, 8500, 8560, 8620, 8680, 8740, 8800, 8950, 9010, 9080, 9160, 9220, 9340, 9400, 9480, 9540, 9600, 9660, 9730, 9790, 9825]
s6387 = [70, 130, 190, 290, 340, 560, 660, 850, 900, 960, 1010, 1100, 1170, 1320, 1380, 1440, 1500, 1560, 1620, 1680, 1760, 1820, 1880, 2140, 2220, 2270, 2400, 2490, 2640, 2810, 2870, 3000, 3040, 3090, 3360, 3420, 3480, 3620, 3680, 3880, 3950, 4040, 4090, 4180, 4240, 4330, 4390, 4450, 4530, 4900, 4970, 5050, 5150, 5240, 5300, 5360, 5560, 5620, 5680, 5830, 5910, 6000, 6060, 6120, 6190, 6240, 6320, 6560, 6620, 6800, 6860, 7070, 7160, 7510, 7570, 7720, 7780, 7860, 7960, 8210, 8300, 8340, 8540, 8600, 8660, 8750, 8830, 8890, 8950, 9090, 9150, 9240, 9310, 9420, 9700, 9830]
s6386 = [265, 300, 830, 1125, 1165, 1570, 1700, 1740, 2130, 2300, 2540, 2590, 2690, 2735, 3045, 3210, 3530, 3600, 3650, 3710, 3940, 3990, 4140, 4890, 5330, 5440, 6240, 7100, 7320, 7520, 7570, 8420, 8650, 8720, 8780, 9060, 9350, 9540, 9600]
s6385 = [20, 70, 120, 190, 250, 300, 350, 400, 500, 550, 610, 800, 880, 950, 1000, 1100, 1290, 1400, 1520, 1660, 1770, 1920, 2000, 2080, 2140, 2210, 2340, 2400, 2550, 2620, 2790, 2860, 2920, 3060, 3180, 3280, 3470, 3680, 3760, 3820, 3880, 3940, 4000, 4060, 4190, 4340, 4400, 4470, 4620, 4720, 4780, 5010, 5080, 5170, 5410, 5470, 5530, 5650, 5720, 5900, 5980, 6090, 6200, 6380, 6500, 6550, 6700, 6860, 6920, 7020, 7080, 7170, 7240, 7310, 7530, 7590, 7640, 7700, 7760, 7820, 7880, 7950, 8010, 8120, 8180, 8250, 8340, 8460, 8490, 8530, 8590, 8640, 8700, 8790, 8860, 9010, 9060, 9140, 9200, 9250, 9310, 9370, 9420, 9560, 9630, 9700, 9790]
s6384 = [10, 190, 320, 490, 560, 620, 680, 720, 940, 1000, 1300, 1400, 1510, 1880, 2020, 2130, 2260, 2470, 2530, 2650, 3000, 3120, 3400, 3520, 3640, 3790, 3840, 3910, 4400, 5020, 5080, 5320, 5410, 5480, 5640, 5700, 5760, 5960, 6700, 7020, 7250, 7440, 7560, 7620, 7810, 8000, 8100, 8170, 8340, 8400, 8490, 8730, 8980, 9020, 9060, 9320, 9560]
s6383 = [370, 420, 640, 700, 740, 910, 1100, 1410, 1590, 1800, 2015, 2110, 2220, 2310, 2870, 2910, 3100, 3220, 3540, 3780, 4040, 4060, 4560, 4640, 4820, 5230, 5400, 5590, 5720, 5900, 6150, 6430, 6610, 6640, 7580, 7640, 7830, 8310, 8800, 8880, 8960, 9120, 9280, 9600, 9660, 9720, 9810]
s6382 = [580, 1610, 3500, 4200, 4210, 5620, 7330, 8580]
s6381 = [15, 90, 280, 420, 540, 610, 765, 850, 915, 1020, 1160, 1250, 1690, 1760, 1830, 1960, 2010, 2120, 2170, 2230, 2380, 2560, 2720, 2800, 2850, 2950, 3030, 3160, 3440, 3700, 3750, 3880, 4170, 4220, 4270, 4360, 4420, 4850, 4970, 5170, 5220, 5270, 5330, 5400, 5510, 5570, 5950, 6020, 6540, 6810, 6860, 7030, 7130, 7150, 7340, 7850, 7900, 7950, 8040, 8100, 8860, 8910, 9140, 9440, 9490, 9540, 9680, 9730, 9790]
s6380 = [30, 150, 230, 330, 360, 490, 890, 960, 1120, 1270, 1410, 1480, 1840, 2020, 2080, 2180, 3000, 3100, 3260, 3470, 3850, 3890, 4230, 4350, 4420, 4560, 4720, 4780, 5030, 5100, 5160, 5350, 5430, 5580, 5610, 6060, 6100, 6190, 6850, 7010, 8000, 8090, 8520, 8920, 9090, 9610]
s6379 = [105, 370, 395, 590, 680, 895, 1050, 1390, 1510, 1780, 1880, 1930, 2110, 3000, 3040, 3080, 3140, 3250, 3320, 3420, 4000, 4040, 4200, 4610, 4680, 5040, 5390, 5570, 5960, 6000, 6670, 6960, 7000, 7480, 7880, 7930, 8000, 8110, 8170, 8720, 8760, 8890, 9060, 9160, 9800]
s6378 = [700, 905, 915, 1600, 1840, 2110, 3500, 3600, 4260, 4300, 4910, 5080, 5090, 5580, 5630, 6300, 6640, 6780, 6870, 7220, 7640, 8000, 8120, 8250, 8350, 8690, 8880, 9290, 9590, 9680]
s6377 = [75, 160, 1060, 2870, 3700, 4150, 4760, 5170, 5380, 6320, 6620, 7000, 7140, 7180, 7670, 8220, 8400, 8500, 9540]
s6376 = [120, 215, 620, 640, 890, 910, 930, 990, 1450, 1530, 1600, 1760, 1880, 2020, 2530, 3520, 3700, 3870, 4080, 4270, 4370, 4430, 4580, 4680, 5220, 5380, 5460, 5530, 5720, 6160, 6230, 6580, 6920, 7030, 7140, 7690, 7950, 8120, 8170, 8270, 8580, 8600, 8890, 8940, 9010, 9130, 9200, 9520, 9560]
s6375 = [20, 210, 1940, 2370, 2800, 3020, 3200, 3390, 3800, 3960, 4060, 4170, 4640, 5190, 5460, 5580, 5800, 6240, 6300, 7390, 7700, 8070, 8150, 8240, 8880, 9530]
s6374 = [180, 500, 1590, 1760, 2510, 2680, 3520, 3580, 4650, 4820, 5060, 5560, 5670, 5780, 6000, 7230, 7730, 8460, 8960, 9320]
s6373 = [330, 1440, 1480, 2570, 5050, 5880, 6280, 7160, 7750, 8080, 8500, 8960, 9030, 9340]
s6372 = [526, 586, 694, 1459, 1746, 1902, 2584, 2751, 2883, 2954, 3050, 3079, 3449, 3569, 4263, 4490, 4538, 4598, 4897, 5028, 5363, 5925, 5973, 6523, 6631, 6762, 6882, 6918, 7611, 7839, 7887, 8126, 8484, 8831, 9358, 9501, 9609, 9656, 9728, 9830]
s6371 = [1675, 2410, 4290, 4760, 5010, 5380, 7839, 8100, 8210, 8440, 8900, 8940, 9320]
s6370 = [730, 2730, 3060, 5300, 6280, 6960, 7225, 9140, 9330]
s6369 = [495, 555, 1390, 2120, 2260, 4290, 4650, 8910]
s6368 = [2650, 3150, 3470, 3880, 9340]
s6367 = [2440, 3030, 4010, 4970, 5370, 5945, 7020]
s6366 = [5250]
s6365 = [1720]
s6364 = [5480]
s6363 = [2120, 4380, 4750, 6540, 8265]
s6361 = [8100]
s6360 = [8000]
s6359 = [930]
s6348 = [2190]

levels = [6453, 6449, 6446, 6445, 6444, 6443, 6442, 6441, 6440, 6439, 6438, 6437, 6436, 6435, 6434, 6433,
          6432, 6431, 6430, 6429, 6428, 6427, 6426, 6425, 6424, 6423, 6422, 6421, 6420, 6419, 6418, 6417,
          6416, 6415, 6414, 6413, 6412, 6411, 6410, 6409, 6408, 6407, 6406, 6405, 6404, 6403, 6402, 6401,
          6400, 6399, 6398, 6397, 6396, 6395, 6394, 6393, 6392, 6391, 6390, 6389, 6388, 6387, 6386, 6385,
          6384, 6383, 6382, 6381, 6380, 6379, 6378, 6377, 6376, 6375, 6374, 6373, 6372, 6371, 6370, 6369,
          6368, 6367, 6366, 6365, 6364, 6363, 6361, 6360, 6359, 6348]
rows = [s6453, s6449, s6446, s6445, s6444, s6443, s6442, s6441, s6440, s6439, s6438, s6437, s6436, s6435, s6434, s6433,
        s6432, s6431, s6430, s6429, s6428, s6427, s6426, s6425, s6424, s6423, s6422, s6421, s6420, s6419, s6418, s6417,
        s6416, s6415, s6414, s6413, s6412, s6411, s6410, s6409, s6408, s6407, s6406, s6405, s6404, s6403, s6402, s6401,
        s6400, s6399, s6398, s6397, s6396, s6395, s6394, s6393, s6392, s6391, s6390, s6389, s6388, s6387, s6386, s6385,
        s6384, s6383, s6382, s6381, s6380, s6379, s6378, s6377, s6376, s6375, s6374, s6373, s6372, s6371, s6370, s6369,
        s6368, s6367, s6366, s6365, s6364, s6363, s6361, s6360, s6359, s6348]

x = []
y = []
for level, row in zip(levels, rows):
    x += row
    y += [level] * len(row)

fig, ax = plt.subplots(figsize=(10, 10), dpi=100)
ax.plot(x, y, 'k.', label="Samples\n$\\mu$ = 6403.68, $\\sigma$ = 12.99")
ax.set_title("Run 514, channel019, Pedestal")
ax.set_xlabel("Sample #")
ax.set_ylabel("ADC Counts")
ax.grid(True)
ax.legend(loc="upper right")
fig.subplots_adjust(left=0.081, right=0.985, top=0.965, bottom=0.058)
fig.savefig("out.png")
